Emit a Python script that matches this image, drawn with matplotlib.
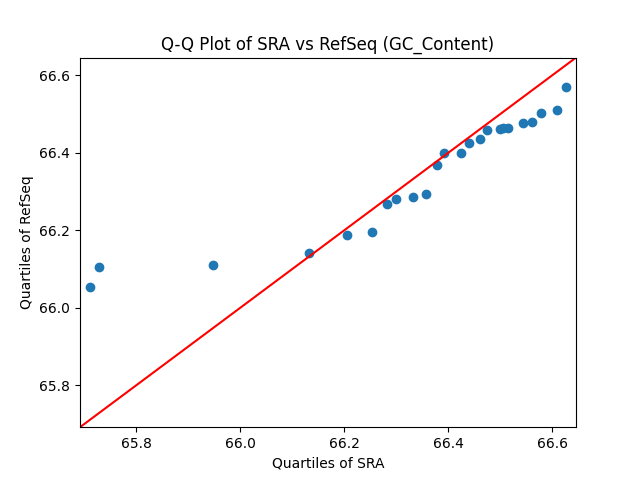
import numpy as np
import matplotlib
matplotlib.use('Agg')
import matplotlib.pyplot as plt

# kvantili obeh vzorcev, odcitani s slike
sra = [65.712, 65.729, 65.948, 66.132, 66.206, 66.254, 66.282, 66.300,
       66.333, 66.357, 66.379, 66.392, 66.425, 66.440, 66.462, 66.475,
       66.499, 66.506, 66.516, 66.544, 66.562, 66.578, 66.610, 66.626]
refseq = [66.055, 66.105, 66.110, 66.141, 66.187, 66.195, 66.268, 66.281,
          66.287, 66.294, 66.369, 66.400, 66.400, 66.426, 66.436, 66.459,
          66.462, 66.463, 66.464, 66.476, 66.480, 66.502, 66.511, 66.571]

lims = (65.692, 66.646)

fig, ax = plt.subplots(figsize=(6.4, 4.8), dpi=100)
ax.plot(sra, refseq, 'o')

# 45 stopinjska crta cez cel graf
ax.plot(lims, lims, 'r')
ax.set_xlim(lims)
ax.set_ylim(lims)

ax.set_title('Q-Q Plot of SRA vs RefSeq (GC_Content)')
ax.set_xlabel('Quartiles of SRA')
ax.set_ylabel('Quartiles of RefSeq')

plt.savefig('out.png')
